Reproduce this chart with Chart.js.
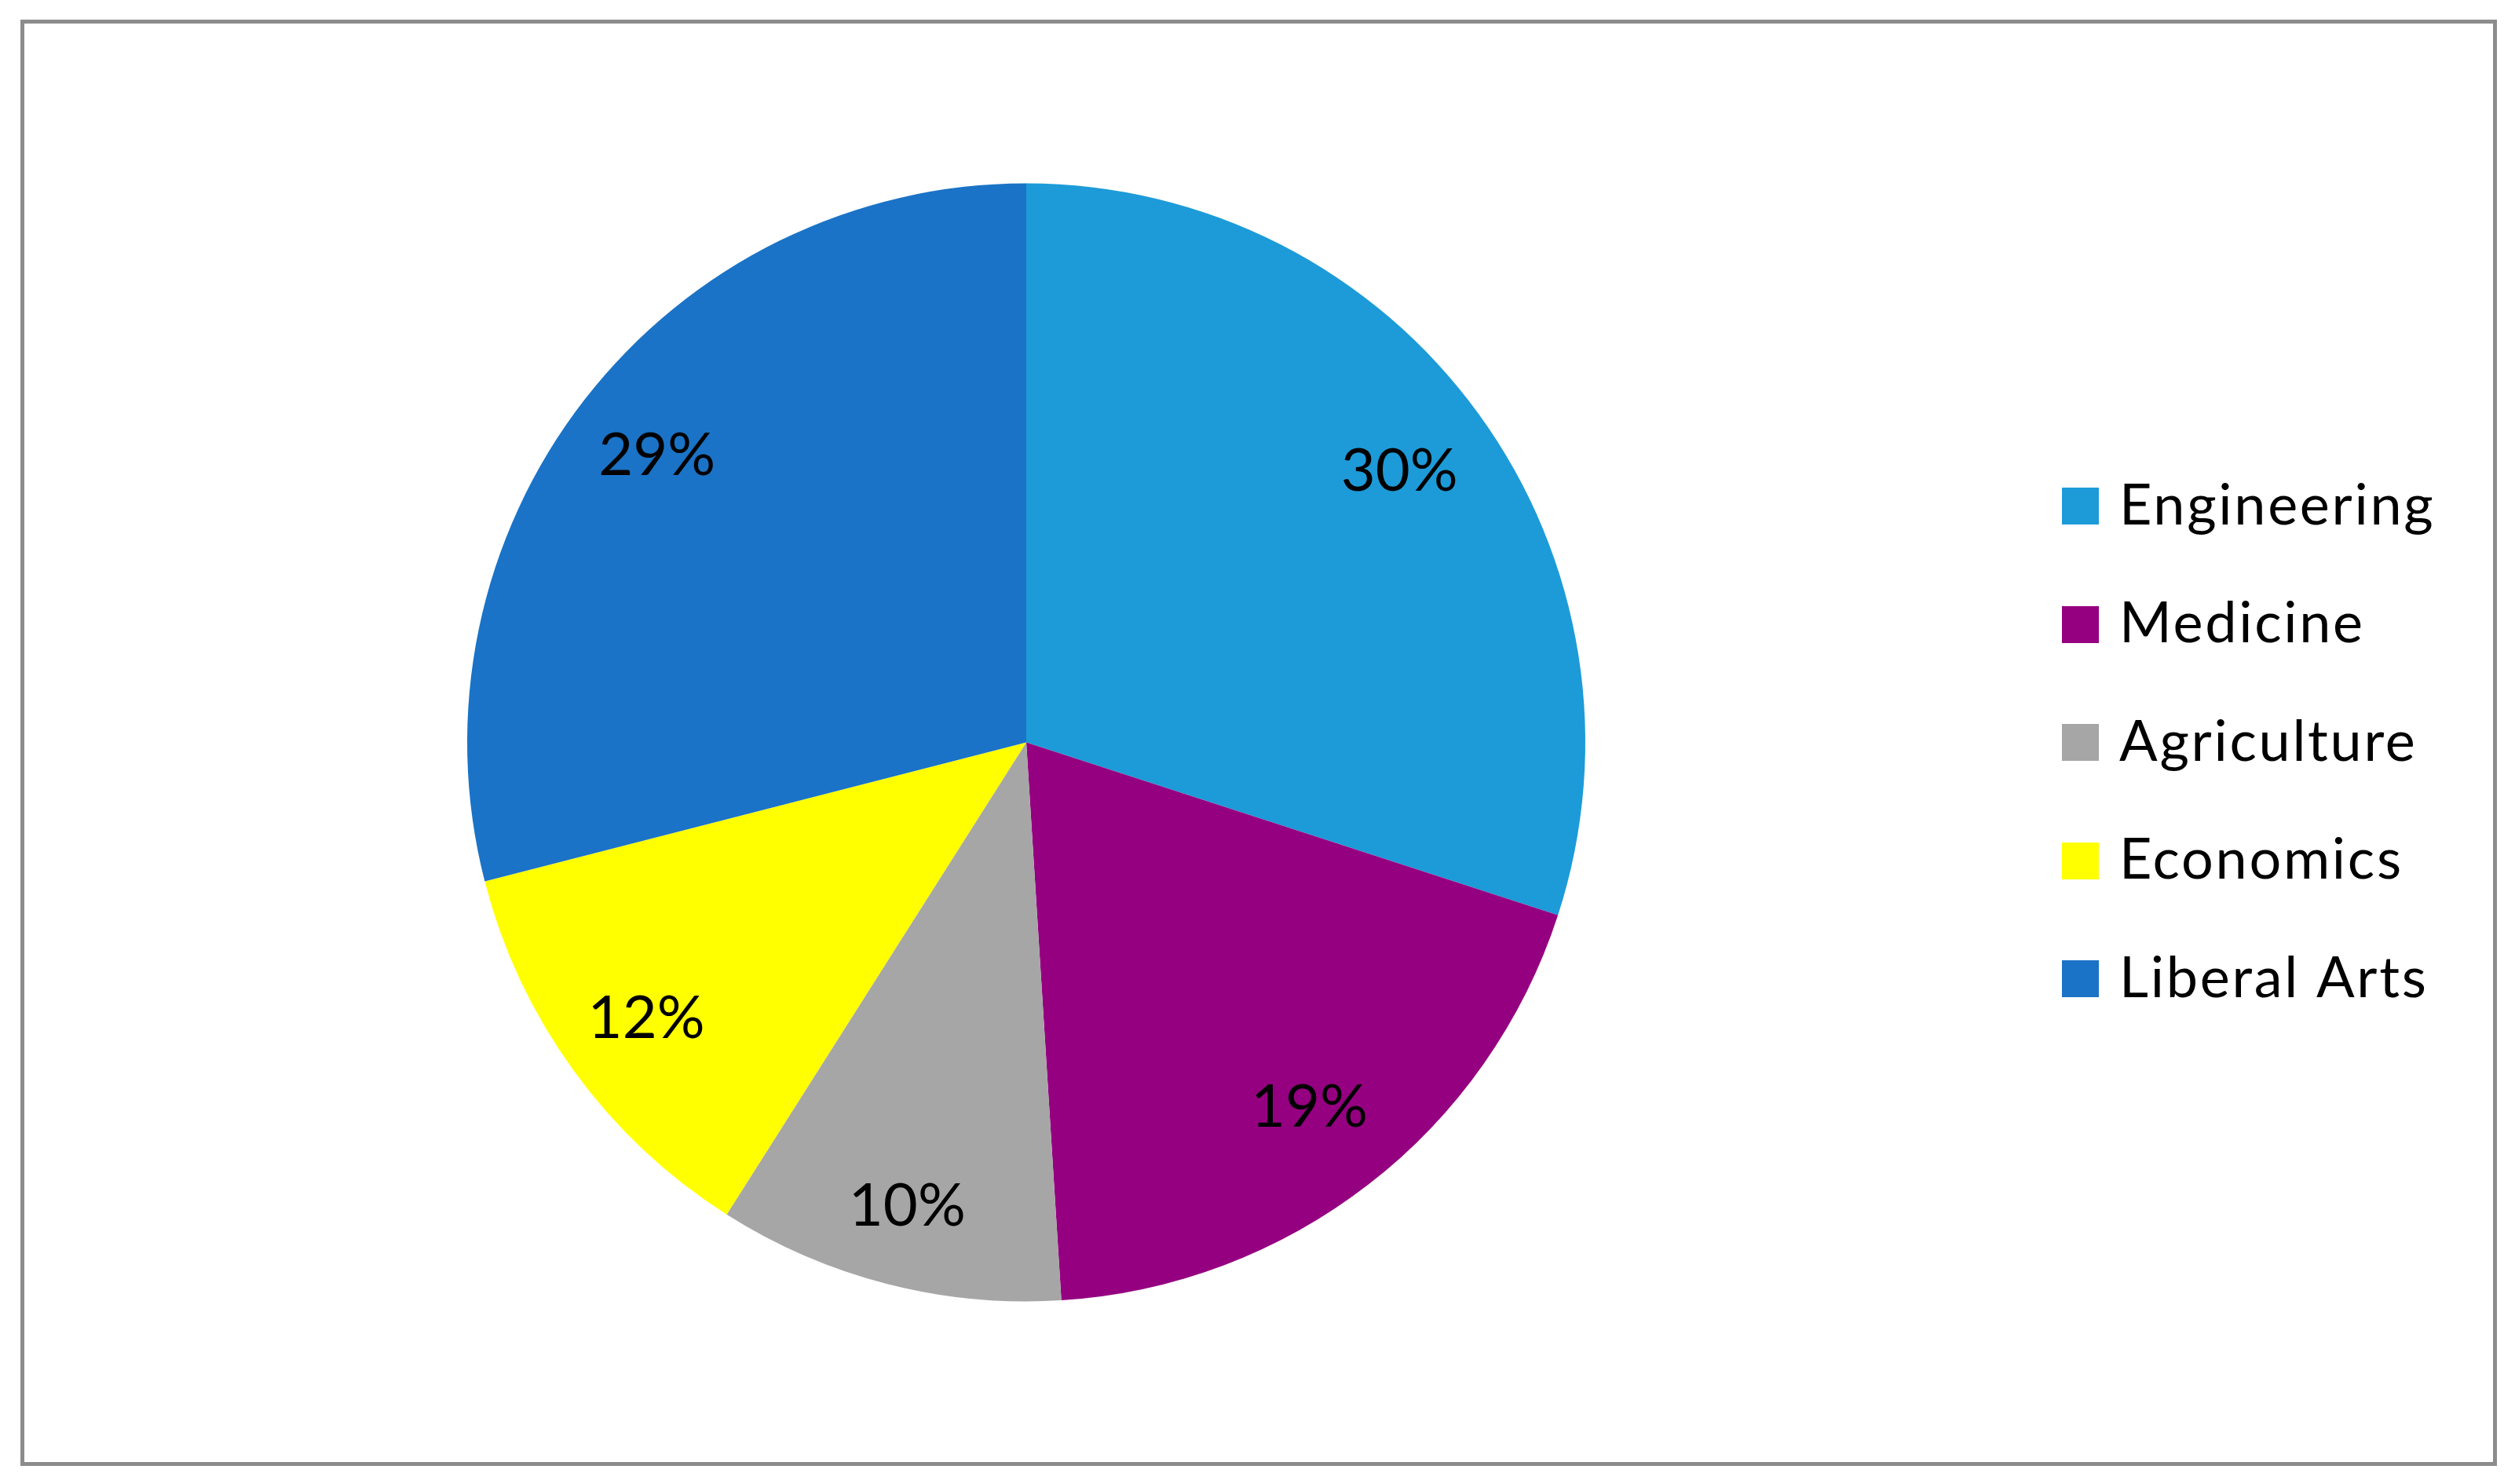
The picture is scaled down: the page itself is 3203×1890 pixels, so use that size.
<!DOCTYPE html>
<html>
<head>
<meta charset="utf-8">
<script src="https://cdn.jsdelivr.net/npm/chart.js@4/dist/chart.umd.min.js"></script>
<style>
html,body{margin:0;padding:0;background:#ffffff;overflow:hidden}
#wrap{position:relative;width:3203px;height:1890px}
</style>
</head>
<body>
<div id="wrap"><canvas id="c"></canvas></div>
<script>
// ---- data ----
const categories = ['Engineering', 'Medicine', 'Agriculture', 'Economics', 'Liberal Arts'];
const shares = [30, 19, 10, 12, 29];
const sliceColors = ['#1d9bd8', '#950080', '#a6a6a6', '#ffff00', '#1a73c6'];

// ---- layout / style constants ----
const LEGEND_WIDTH = 1184;
const LEGEND_LEFT = 2557.5;          // legend box left edge after placement
const LEGEND_SWATCH = 47;            // swatch size in px
const LABEL_RADII = [0.825, 0.826, 0.857, 0.84, 0.836]; // label distance as fraction of radius

function swatch(color) {
  const c = document.createElement('canvas');
  c.width = LEGEND_SWATCH; c.height = LEGEND_SWATCH;
  const g = c.getContext('2d');
  g.fillStyle = color;
  g.fillRect(0, 0, LEGEND_SWATCH, LEGEND_SWATCH);
  return c;
}
const swatches = sliceColors.map(swatch);

const frameBorder = {
  id: 'frameBorder',
  beforeDraw(chart) {
    const ctx = chart.ctx;
    ctx.save();
    ctx.fillStyle = '#ffffff';
    ctx.fillRect(0, 0, chart.width, chart.height);
    ctx.strokeStyle = '#8c8c8c';
    ctx.lineWidth = 5;
    ctx.strokeRect(28.5, 27.5, 3149, 1837);
    ctx.restore();
    ctx.letterSpacing = '2.7px';
  }
};

const legendPlacer = {
  id: 'legendPlacer',
  beforeUpdate(chart) {
    const lg = chart.legend;
    if (lg && !lg.__patched) {
      const fit = lg.fit;
      lg.fit = function () { fit.call(this); this.width = LEGEND_WIDTH; };
      lg.__patched = true;
    }
  },
  afterLayout(chart) {
    const lg = chart.legend;
    if (!lg) return;
    const dx = LEGEND_LEFT - lg.left;
    lg.left += dx;
    lg.right += dx;
  }
};

const pctLabels = {
  id: 'pctLabels',
  afterDatasetsDraw(chart) {
    const ctx = chart.ctx;
    const meta = chart.getDatasetMeta(0);
    const total = shares.reduce((a, b) => a + b, 0);
    ctx.save();
    ctx.letterSpacing = '0px';
    ctx.font = '76px Lato';
    ctx.fillStyle = '#000000';
    ctx.textAlign = 'center';
    ctx.textBaseline = 'middle';
    meta.data.forEach((arc, i) => {
      const p = arc.getProps(['x', 'y', 'startAngle', 'endAngle', 'outerRadius'], true);
      const mid = (p.startAngle + p.endAngle) / 2;
      const r = p.outerRadius * LABEL_RADII[i];
      ctx.fillText(Math.round(shares[i] / total * 100) + '%', p.x + Math.cos(mid) * r, p.y + Math.sin(mid) * r);
    });
    ctx.restore();
  }
};

function draw() {
  new Chart(document.getElementById('c'), {
    type: 'pie',
    data: {
      labels: categories,
      datasets: [{
        data: shares,
        backgroundColor: sliceColors,
        borderColor: sliceColors,
        borderWidth: 0
      }]
    },
    options: {
      responsive: true,
      maintainAspectRatio: false,
      animation: false,
      devicePixelRatio: 1,
      layout: { padding: { left: 595, top: 233, bottom: 232, right: 0 } },
      plugins: {
        tooltip: { enabled: false },
        legend: {
          display: true,
          position: 'right',
          align: 'center',
          labels: {
            color: '#000000',
            font: { family: 'Lato', size: 72 },
            usePointStyle: true,
            pointStyleWidth: 27,
            boxHeight: LEGEND_SWATCH,
            padding: 78.5,
            generateLabels(chart) {
              const items = Chart.overrides.pie.plugins.legend.labels.generateLabels(chart);
              items.forEach((it, i) => { it.pointStyle = swatches[i]; it.lineWidth = 0; });
              return items;
            }
          }
        }
      }
    },
    plugins: [frameBorder, legendPlacer, pctLabels]
  });
}

if (document.fonts && document.fonts.load) {
  Promise.all([document.fonts.load('72px Lato'), document.fonts.load('76px Lato')]).then(draw, draw);
} else {
  draw();
}
</script>
</body>
</html>
